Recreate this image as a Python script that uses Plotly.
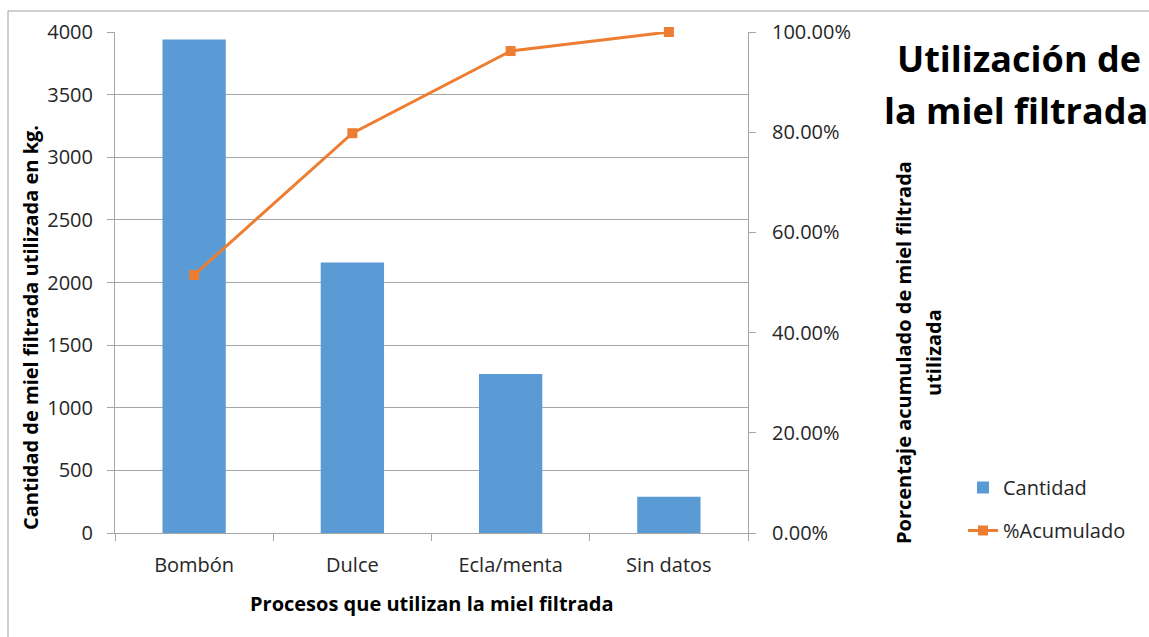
import plotly.graph_objects as go

categorias = ["Bombón", "Dulce", "Ecla/menta", "Sin datos"]
cantidad = [3940, 2160, 1270, 290]
acumulado = [51.5, 79.8, 96.2, 100.0]

W, H = 1149, 637
L, R, T, B = 115, 401, 32, 104
pw, ph = W - L - R, H - T - B

def px(xp):
    return (xp - L) / pw

def py(yp):
    return (H - B - yp) / ph

FONT = "Open Sans"
AX = "#A6A6A6"
TXT = "#262626"

fig = go.Figure()
fig.add_trace(go.Bar(
    x=categorias, y=cantidad, name="Cantidad",
    marker=dict(color="#5B9BD5", line=dict(width=0)),
    width=0.4, legendgroup="a",
))
fig.add_trace(go.Scatter(
    x=categorias, y=acumulado, name="%Acumulado", yaxis="y2",
    mode="lines+markers",
    line=dict(color="#ED7D31", width=3),
    marker=dict(symbol="square", size=10, color="#ED7D31"),
    legendgroup="b", cliponaxis=False,
))

fig.update_layout(
    width=W, height=H,
    margin=dict(l=L, r=R, t=T, b=B),
    paper_bgcolor="white", plot_bgcolor="white",
    font=dict(family=FONT, color=TXT),
    showlegend=True,
    legend=dict(
        x=px(963), y=py(468), xanchor="left", yanchor="top",
        font=dict(family=FONT, size=20, color=TXT),
        traceorder="grouped", tracegroupgap=14,
        bgcolor="rgba(0,0,0,0)",
    ),
    xaxis=dict(
        type="category", showline=True, linecolor=AX, linewidth=1,
        ticks="outside", tickson="boundaries", ticklen=7, tickcolor=AX,
        tickfont=dict(family=FONT, size=20, color=TXT),
        ticklabelstandoff=14,
        showgrid=False, zeroline=False,
    ),
    yaxis=dict(
        range=[0, 4000], tickvals=[0, 500, 1000, 1500, 2000, 2500, 3000, 3500, 4000],
        showline=True, linecolor=AX, linewidth=1,
        ticks="outside", ticklen=7, tickcolor=AX,
        showgrid=True, gridcolor=AX, gridwidth=1, zeroline=False,
        tickfont=dict(family=FONT, size=20, color=TXT),
        ticklabelstandoff=10,
    ),
    yaxis2=dict(
        overlaying="y", side="right", range=[0, 100],
        tickvals=[0, 20, 40, 60, 80, 100],
        ticktext=["0.00%", "20.00%", "40.00%", "60.00%", "80.00%", "100.00%"],
        showline=True, linecolor=AX, linewidth=1,
        ticks="outside", ticklen=7, tickcolor=AX,
        showgrid=False, zeroline=False,
        tickfont=dict(family=FONT, size=20, color=TXT),
        ticklabelstandoff=12,
    ),
)

ann = [
    dict(text="<b>Cantidad de miel filtrada utilizada en kg.</b>", x=px(30), y=py(328),
         textangle=-90, font=dict(size=20)),
    dict(text="<b>Procesos que utilizan la miel filtrada</b>", x=px(431), y=py(603),
         font=dict(size=20)),
    dict(text="<b>Porcentaje acumulado de miel filtrada</b>", x=px(903), y=py(353),
         textangle=-90, font=dict(size=20)),
    dict(text="<b>utilizada</b>", x=px(933), y=py(353),
         textangle=-90, font=dict(size=20)),
    dict(text="<b>Utilización de</b>", x=px(1019), y=py(58), font=dict(size=36)),
    dict(text="<b>la miel filtrada</b>", x=px(1016), y=py(110), font=dict(size=36)),
]
for a in ann:
    a.update(xref="paper", yref="paper", xanchor="center", yanchor="middle",
             showarrow=False)
    a["font"].setdefault("family", FONT)
    a["font"].setdefault("color", "#000000")
fig.update_layout(annotations=ann)

fig.add_shape(type="rect", xref="paper", yref="paper",
              x0=px(8), x1=px(1200), y0=py(700), y1=py(11),
              line=dict(color="#A0A0A0", width=1), fillcolor="rgba(0,0,0,0)", layer="below")

fig.write_html("out.html")
